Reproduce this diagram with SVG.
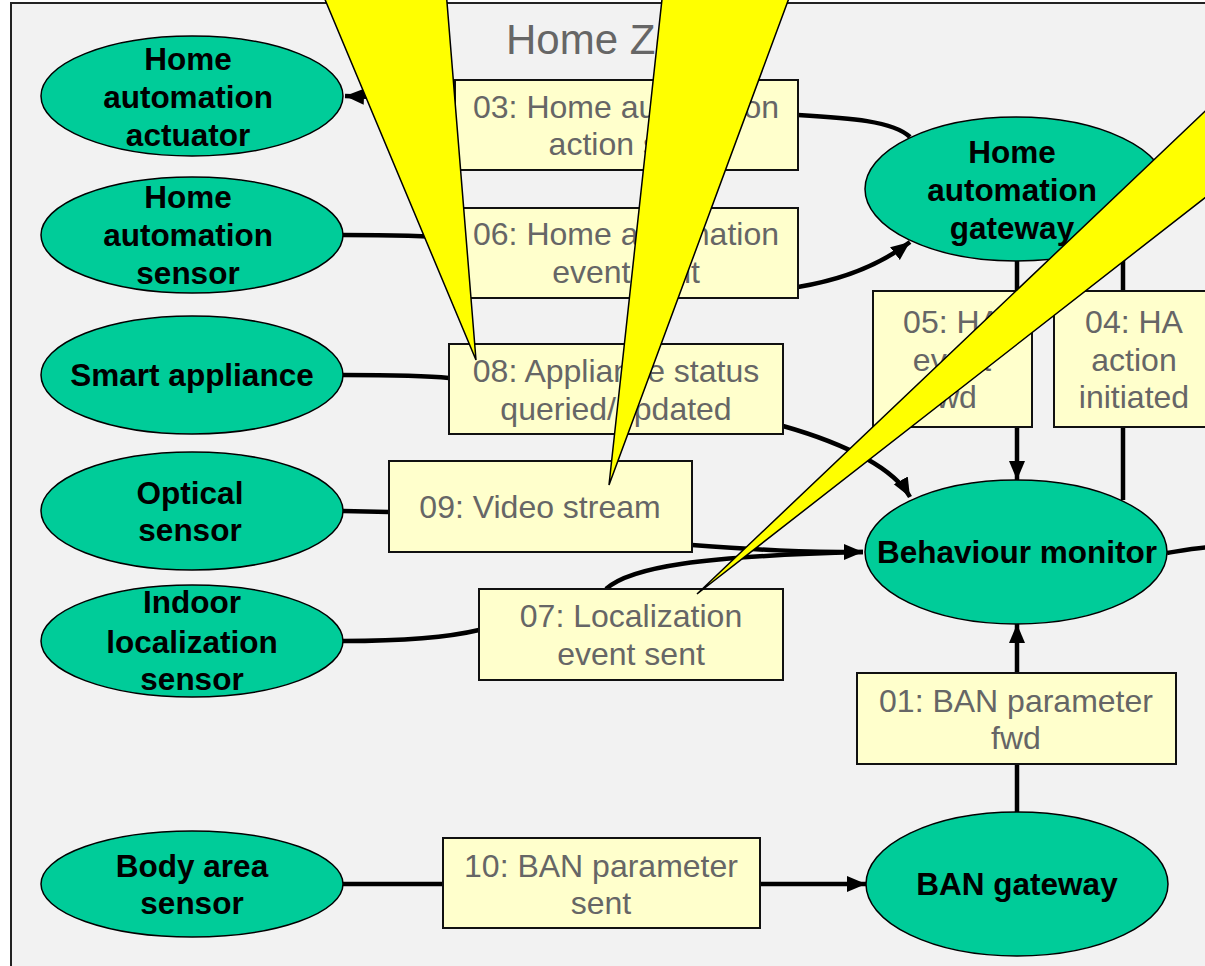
<svg xmlns="http://www.w3.org/2000/svg" width="1205" height="966" viewBox="0 0 1205 966">
<defs>
<style>
.node ellipse{fill:#00CC99;stroke:#000;stroke-width:1.5}
.node text{font-family:"Liberation Sans",Arial,sans-serif;font-weight:bold;font-size:31.5px;fill:#000;text-anchor:middle}
.box rect{fill:#FFFFCC;stroke:#111;stroke-width:2}
.box text{font-family:"Liberation Sans",Arial,sans-serif;font-size:32px;fill:#666;text-anchor:middle}
.conn path{fill:none;stroke:#000;stroke-width:4.5}
.callout{fill:#FFFF00;stroke:#000;stroke-width:1.5}
</style>
<marker id="arr" markerUnits="userSpaceOnUse" markerWidth="22" markerHeight="18" refX="19" refY="8" orient="auto">
<path d="M0,0 L19,8 L0,16 z" fill="#000"/>
</marker>
</defs>
<rect x="11" y="3" width="1215" height="990" fill="#F2F2F2" stroke="#222" stroke-width="2"/>
<text x="506" y="54" font-family="Liberation Sans,Arial,sans-serif" font-size="42" fill="#666">Home Zone</text>
<g id="connectors" class="conn">
<path d="M910,137 C893,121 850,118 798,115 L455,100 L345,96" marker-end="url(#arr)"/>
<path d="M343,235 C400,235 430,236 455,238 L798,287 C840,280 880,265 910,242" marker-end="url(#arr)"/>
<path d="M343,375 C400,375 430,376 449,378 L783,426 C850,445 895,470 910,497" marker-end="url(#arr)"/>
<path d="M343,511 L389,512"/>
<path d="M692,545 C760,550 800,552 863,552" marker-end="url(#arr)"/>
<path d="M343,641 C400,641 450,637 479,630"/>
<path d="M606,589 C630,567 700,556 863,552"/>
<path d="M1017,261 L1017,291"/>
<path d="M1017,427 L1017,480" marker-end="url(#arr)"/>
<path d="M1123,240 L1123,291"/>
<path d="M1123,427 L1123,500"/>
<path d="M1167,553 C1185,550 1195,548 1210,547"/>
<path d="M343,884 L443,884"/>
<path d="M760,884 L866,884" marker-end="url(#arr)"/>
<path d="M1017,812 L1017,764"/>
<path d="M1017,673 L1017,624" marker-end="url(#arr)"/>
</g>
<g id="ha-actuator" class="node"><ellipse cx="192" cy="96" rx="151" ry="60"/><text x="188" y="70">Home</text><text x="188" y="108">automation</text><text x="188" y="146">actuator</text></g>
<g id="ha-sensor" class="node"><ellipse cx="192" cy="235" rx="151" ry="58"/><text x="188" y="208">Home</text><text x="188" y="246">automation</text><text x="188" y="284">sensor</text></g>
<g id="smart-appliance" class="node"><ellipse cx="192" cy="375" rx="151" ry="59"/><text x="192" y="386">Smart appliance</text></g>
<g id="optical-sensor" class="node"><ellipse cx="192" cy="511" rx="151" ry="59"/><text x="190" y="504">Optical</text><text x="190" y="541">sensor</text></g>
<g id="indoor-sensor" class="node"><ellipse cx="192" cy="641" rx="151" ry="56"/><text x="192" y="613">Indoor</text><text x="192" y="653">localization</text><text x="192" y="690">sensor</text></g>
<g id="body-sensor" class="node"><ellipse cx="192" cy="884" rx="151" ry="53"/><text x="192" y="877">Body area</text><text x="192" y="914">sensor</text></g>
<g id="ha-gateway" class="node"><ellipse cx="1016" cy="189" rx="151" ry="72"/><text x="1012" y="163">Home</text><text x="1012" y="201">automation</text><text x="1012" y="239">gateway</text></g>
<g id="behaviour-monitor" class="node"><ellipse cx="1016" cy="552" rx="151" ry="72"/><text x="1017" y="563">Behaviour monitor</text></g>
<g id="ban-gateway" class="node"><ellipse cx="1017" cy="884" rx="151" ry="72"/><text x="1017" y="895">BAN gateway</text></g>
<g id="msg03" class="box"><rect x="455" y="80" width="343" height="90"/><text x="626" y="118">03: Home automation</text><text x="626" y="155">action sent</text></g>
<g id="msg06" class="box"><rect x="455" y="208" width="343" height="90"/><text x="626" y="245">06: Home automation</text><text x="626" y="283">event sent</text></g>
<g id="msg05" class="box"><rect x="873" y="291" width="159" height="136"/><text x="952" y="333">05: HA</text><text x="952" y="371">event</text><text x="952" y="408">fwd</text></g>
<g id="msg04" class="box"><rect x="1054" y="291" width="160" height="136"/><text x="1134" y="333">04: HA</text><text x="1134" y="371">action</text><text x="1134" y="408">initiated</text></g>
<g id="msg08" class="box"><rect x="449" y="344" width="334" height="90"/><text x="616" y="382">08: Appliance status</text><text x="616" y="420">queried/updated</text></g>
<g id="msg09" class="box"><rect x="389" y="461" width="303" height="91"/><text x="540" y="518">09: Video stream</text></g>
<g id="msg07" class="box"><rect x="479" y="589" width="304" height="91"/><text x="631" y="627">07: Localization</text><text x="631" y="665">event sent</text></g>
<g id="msg01" class="box"><rect x="857" y="673" width="319" height="91"/><text x="1016" y="712">01: BAN parameter</text><text x="1016" y="749">fwd</text></g>
<g id="msg10" class="box"><rect x="443" y="838" width="317" height="90"/><text x="601" y="877">10: BAN parameter</text><text x="601" y="914">sent</text></g>
<g id="callouts">
<polygon class="callout" points="321,-10 446,-10 476,360"/>
<polygon class="callout" points="663,-10 792,-10 609,485"/>
<polygon class="callout" points="697,594 1220,97 1220,186"/>
</g>
</svg>
